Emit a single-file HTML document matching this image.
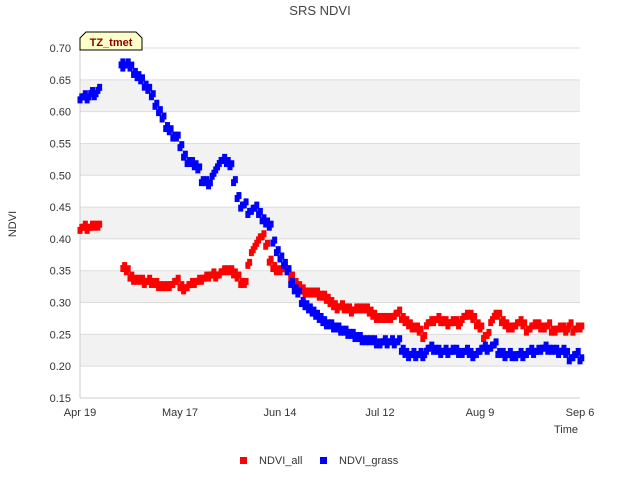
<!DOCTYPE html>
<html><head><meta charset="utf-8"><style>
body{margin:0;background:#fff;font-family:"Liberation Sans",sans-serif}
svg text{font-family:"Liberation Sans",sans-serif}
</style></head><body>
<svg id="c" width="640" height="480" xmlns="http://www.w3.org/2000/svg">
<text x="320" y="15" text-anchor="middle" font-size="13" fill="#444">SRS NDVI</text>
<g id="bands"></g><g id="grid"></g><g id="yt"></g><g id="xt"></g><g id="pts"></g>
<text x="16" y="224" font-size="11" fill="#333" transform="rotate(-90 16 224)" text-anchor="middle">NDVI</text>
<text x="578" y="433" font-size="11" fill="#333" text-anchor="end">Time</text>
<g>
<path d="M80,50 L80,38 L86,32 L136,32 L142,38 L142,50 Z" fill="#ffffc8" stroke="#000" stroke-width="1"/>
<text x="111" y="46" font-size="11" font-weight="bold" fill="#8b0000" text-anchor="middle">TZ_tmet</text></g>
<g><rect x="240" y="457" width="7" height="7" fill="#f00"/><text x="259" y="464" font-size="11" fill="#333">NDVI_all</text></g>
<g><rect x="320" y="457" width="7" height="7" fill="#00f"/><text x="339" y="464" font-size="11" fill="#333">NDVI_grass</text></g>
</svg>
<script>
const yTicks=[0.15,0.20,0.25,0.30,0.35,0.40,0.45,0.50,0.55,0.60,0.65,0.70];
const xLabels=["Apr 19","May 17","Jun 14","Jul 12","Aug 9","Sep 6"];
const xLabelDays=[0,28,56,84,112,140];
const grassDays=[0,1,2,3,4,5,11.5,12,13,14,15,16,17,18,19,20,21,22,23,24,25,26,27,28,29,30,31,32,33,34,35,36,37,38,39,40,41,42,43,44,45,46,47,48,49,50,51,52,53,54,55,56,57,58,59,60,61,62,63,64,65,66,67,68,69,70,71,72,73,74,75,76,77,78,79,80,81,82,83,84,85,86,87,88,89,90,91,92,93,94,95,96,97,98,99,100,101,102,103,104,105,106,107,108,109,110,111,112,113,114,115,116,117,118,119,120,121,122,123,124,125,126,127,128,129,130,131,132,133,134,135,136,137,138,139,140];
const grassVals=[0.62,0.625,0.62,0.63,0.625,0.635,0.675,0.67,0.675,0.67,0.66,0.655,0.65,0.64,0.635,0.625,0.61,0.6,0.59,0.575,0.57,0.56,0.56,0.545,0.53,0.52,0.52,0.515,0.51,0.49,0.49,0.485,0.5,0.51,0.52,0.525,0.52,0.515,0.49,0.465,0.45,0.455,0.44,0.445,0.45,0.44,0.43,0.425,0.42,0.395,0.38,0.37,0.36,0.35,0.33,0.32,0.315,0.3,0.295,0.29,0.285,0.28,0.275,0.27,0.265,0.265,0.26,0.26,0.255,0.255,0.25,0.25,0.245,0.245,0.24,0.24,0.24,0.24,0.235,0.235,0.24,0.235,0.24,0.235,0.24,0.225,0.22,0.215,0.22,0.215,0.22,0.215,0.225,0.23,0.225,0.225,0.22,0.225,0.22,0.225,0.225,0.22,0.22,0.225,0.22,0.215,0.22,0.225,0.23,0.225,0.23,0.235,0.22,0.22,0.215,0.22,0.215,0.215,0.22,0.215,0.22,0.225,0.22,0.225,0.225,0.23,0.225,0.225,0.225,0.22,0.225,0.22,0.21,0.215,0.22,0.21];
const allDays=[0,1,2,3,4,5,12,13,14,15,16,17,18,19,20,21,22,23,24,25,26,27,28,29,30,31,32,33,34,35,36,37,38,39,40,41,42,43,44,45,46,47,48,49,50,51,52,53,54,55,56,57,58,59,60,61,62,63,64,65,66,67,68,69,70,71,72,73,74,75,76,77,78,79,80,81,82,83,84,85,86,87,88,89,90,91,92,93,94,95,96,97,98,99,100,101,102,103,104,105,106,107,108,109,110,111,112,113,114,115,116,117,118,119,120,121,122,123,124,125,126,127,128,129,130,131,132,133,134,135,136,137,138,139,140];
const allVals=[0.415,0.42,0.415,0.42,0.42,0.42,0.355,0.35,0.34,0.335,0.335,0.335,0.33,0.335,0.33,0.33,0.325,0.325,0.325,0.325,0.33,0.335,0.325,0.32,0.325,0.33,0.33,0.335,0.335,0.34,0.34,0.345,0.34,0.345,0.35,0.35,0.35,0.345,0.34,0.33,0.33,0.36,0.38,0.39,0.4,0.405,0.39,0.365,0.355,0.35,0.35,0.355,0.35,0.34,0.33,0.325,0.32,0.315,0.315,0.315,0.315,0.31,0.31,0.305,0.3,0.295,0.29,0.295,0.29,0.29,0.285,0.29,0.29,0.29,0.29,0.285,0.28,0.275,0.275,0.275,0.275,0.275,0.28,0.285,0.275,0.27,0.265,0.26,0.26,0.255,0.245,0.265,0.27,0.27,0.275,0.27,0.27,0.265,0.27,0.27,0.265,0.275,0.28,0.28,0.275,0.265,0.26,0.245,0.25,0.27,0.28,0.28,0.27,0.265,0.26,0.26,0.265,0.27,0.265,0.255,0.26,0.265,0.265,0.26,0.26,0.265,0.255,0.255,0.26,0.26,0.255,0.265,0.255,0.26,0.26];
const NS="http://www.w3.org/2000/svg";
const X0=80,X1=580,Y0=48,Y1=398;
const xs=d=>X0+d*(X1-X0)/140;
const ys=v=>Y0+(0.70-v)/0.55*(Y1-Y0);
function mk(t,a,p){const e=document.createElementNS(NS,t);for(const k in a)e.setAttribute(k,a[k]);document.getElementById(p).appendChild(e);return e;}
for(let i=0;i<yTicks.length-1;i++){
 if(i%2==1){const b=mk('rect',{x:X0,y:ys(yTicks[i+1]),width:X1-X0,height:ys(yTicks[i])-ys(yTicks[i+1]),fill:'#f2f2f2'},'bands');
 
 }
}
yTicks.forEach(v=>{
 const l=mk('line',{x1:X0,x2:X1,y1:ys(v),y2:ys(v),stroke:'#ddd'},'grid');
 
 
 const t=mk('text',{x:71,y:ys(v)+4,'font-size':11,fill:'#333','text-anchor':'end'},'yt');
 t.textContent=v.toFixed(2);
 
 
});
const ax=mk('line',{x1:X0,x2:X0,y1:Y0,y2:Y1,stroke:'#ccc'},'grid');


const ax2=mk('line',{x1:X0,x2:X1,y1:Y1,y2:Y1,stroke:'#ccc'},'grid');


xLabels.forEach((s,i)=>{
 const t=mk('text',{x:xs(xLabelDays[i]),y:416,'font-size':11,fill:'#333','text-anchor':'middle'},'xt');
 t.textContent=s;
 
 
});
function series(days,vals,col,name){
 days.forEach((d,i)=>{
  for(let k=0;k<2;k++){
   const r=mk('rect',{x:xs(d+k*0.5)-2.5,y:ys(vals[i])-3.5-(k?2:-1),width:5,height:7,fill:col},'pts');
   
   
  }
 });
}
series(allDays,allVals,'#f00','point-ndvi-all');
series(grassDays,grassVals,'#00f','point-ndvi-grass');
</script>
</body></html>
